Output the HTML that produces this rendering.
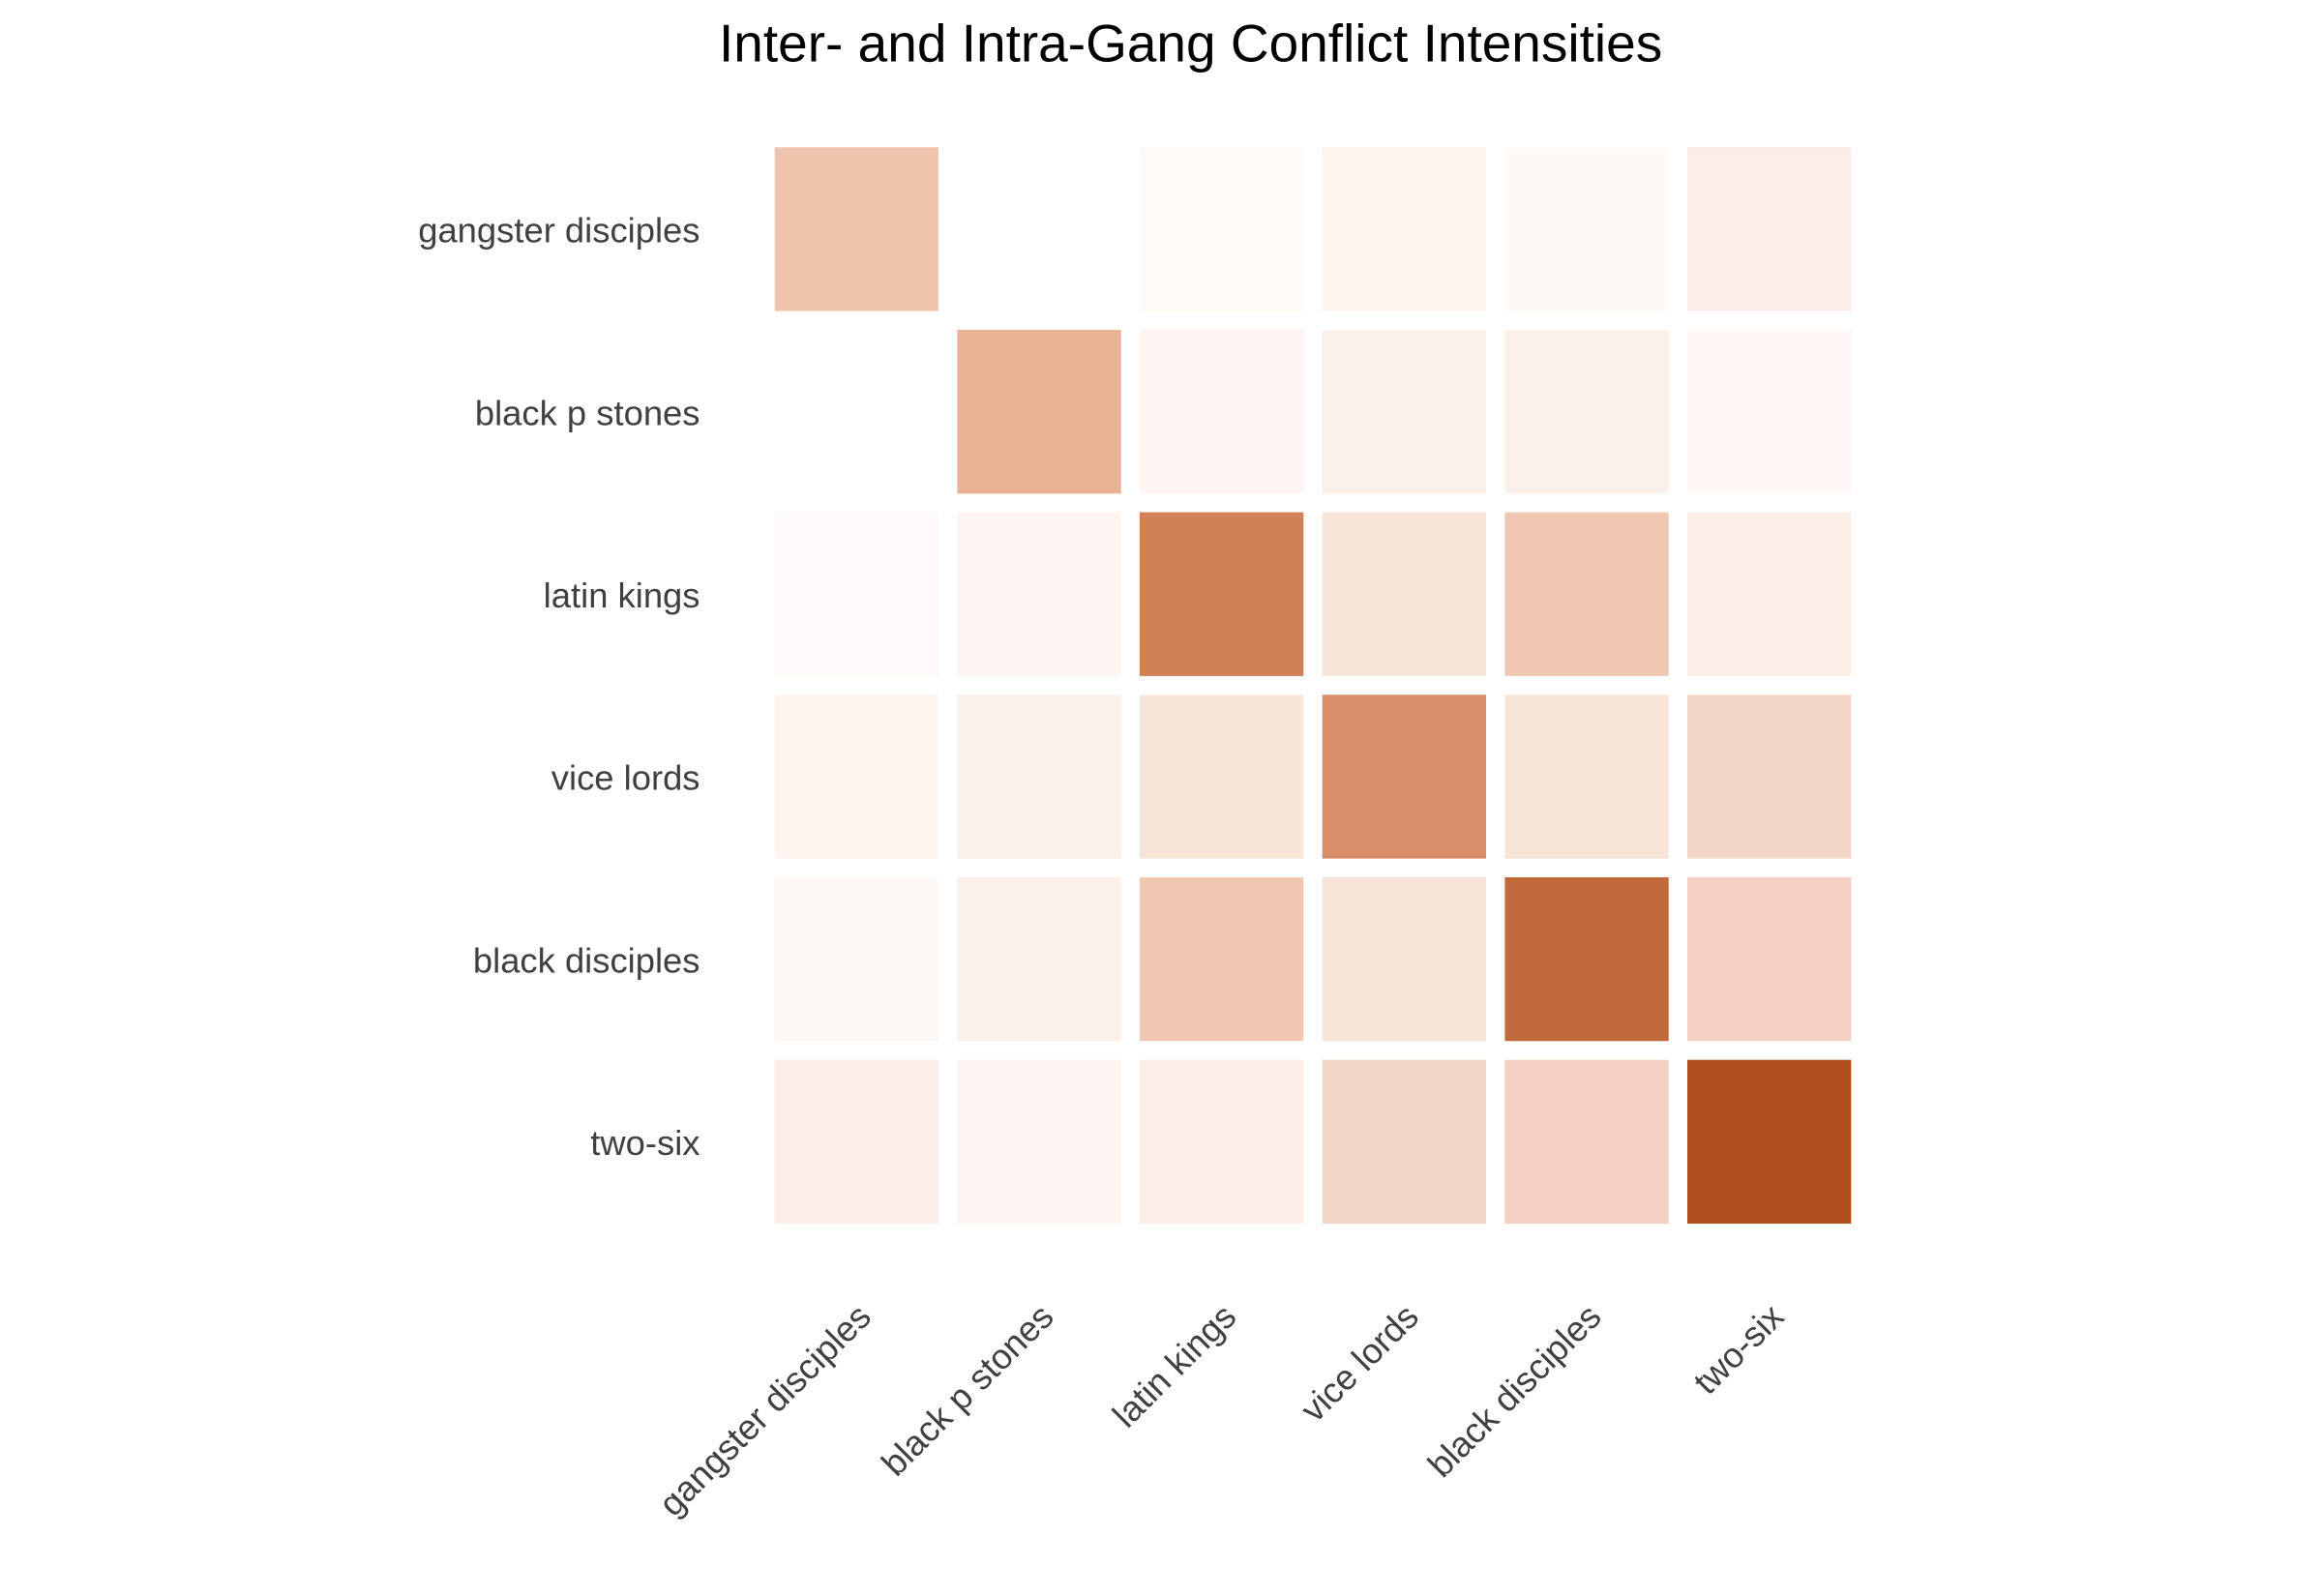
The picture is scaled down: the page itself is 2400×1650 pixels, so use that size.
<!DOCTYPE html>
<html>
<head>
<meta charset="utf-8">
<style>
  html, body { margin: 0; padding: 0; background: #ffffff; }
  svg { display: block; }
  text { font-family: "Liberation Sans", Arial, Helvetica, sans-serif; }
</style>
</head>
<body>
<svg width="2400" height="1650" viewBox="0 0 2400 1650" xmlns="http://www.w3.org/2000/svg">
  <rect x="0" y="0" width="2400" height="1650" fill="#ffffff"/>

  <!-- Title -->
  <text x="743" y="63.3" font-size="55" fill="#000000">Inter- and Intra-Gang Conflict Intensities</text>

  <!-- Tiles -->
  <g>
    <!-- row 0 -->
    <rect x="800.7" y="152.3" width="169.3" height="169.3" fill="#EEC4AC"/>
    <rect x="989.4" y="152.3" width="169.3" height="169.3" fill="#FFFFFF"/>
    <rect x="1178.0" y="152.3" width="169.3" height="169.3" fill="#FEFAF8"/>
    <rect x="1366.7" y="152.3" width="169.3" height="169.3" fill="#FEF3EF"/>
    <rect x="1555.4" y="152.3" width="169.3" height="169.3" fill="#FEF9F6"/>
    <rect x="1744.0" y="152.3" width="169.3" height="169.3" fill="#FBECE7"/>
    <!-- row 1 -->
    <rect x="800.7" y="341.0" width="169.3" height="169.3" fill="#FFFFFF"/>
    <rect x="989.4" y="341.0" width="169.3" height="169.3" fill="#E8B295"/>
    <rect x="1178.0" y="341.0" width="169.3" height="169.3" fill="#FEF5F2"/>
    <rect x="1366.7" y="341.0" width="169.3" height="169.3" fill="#FCF0EB"/>
    <rect x="1555.4" y="341.0" width="169.3" height="169.3" fill="#FCF0EB"/>
    <rect x="1744.0" y="341.0" width="169.3" height="169.3" fill="#FEF7F5"/>
    <!-- row 2 -->
    <rect x="800.7" y="529.6" width="169.3" height="169.3" fill="#FEFAF9"/>
    <rect x="989.4" y="529.6" width="169.3" height="169.3" fill="#FEF5F2"/>
    <rect x="1178.0" y="529.6" width="169.3" height="169.3" fill="#CF8158"/>
    <rect x="1366.7" y="529.6" width="169.3" height="169.3" fill="#F8E5DA"/>
    <rect x="1555.4" y="529.6" width="169.3" height="169.3" fill="#F0C7B1"/>
    <rect x="1744.0" y="529.6" width="169.3" height="169.3" fill="#FCEFE7"/>
    <!-- row 3 -->
    <rect x="800.7" y="718.3" width="169.3" height="169.3" fill="#FEF4F0"/>
    <rect x="989.4" y="718.3" width="169.3" height="169.3" fill="#FCF0EB"/>
    <rect x="1178.0" y="718.3" width="169.3" height="169.3" fill="#F8E5DA"/>
    <rect x="1366.7" y="718.3" width="169.3" height="169.3" fill="#D88D69"/>
    <rect x="1555.4" y="718.3" width="169.3" height="169.3" fill="#F7E4D7"/>
    <rect x="1744.0" y="718.3" width="169.3" height="169.3" fill="#F4D6C6"/>
    <!-- row 4 -->
    <rect x="800.7" y="907.0" width="169.3" height="169.3" fill="#FDF8F5"/>
    <rect x="989.4" y="907.0" width="169.3" height="169.3" fill="#FCF0EB"/>
    <rect x="1178.0" y="907.0" width="169.3" height="169.3" fill="#F0C7B1"/>
    <rect x="1366.7" y="907.0" width="169.3" height="169.3" fill="#F7E4D7"/>
    <rect x="1555.4" y="907.0" width="169.3" height="169.3" fill="#C0693A"/>
    <rect x="1744.0" y="907.0" width="169.3" height="169.3" fill="#F4D1C3"/>
    <!-- row 5 -->
    <rect x="800.7" y="1095.7" width="169.3" height="169.3" fill="#FBEDE8"/>
    <rect x="989.4" y="1095.7" width="169.3" height="169.3" fill="#FEF5F2"/>
    <rect x="1178.0" y="1095.7" width="169.3" height="169.3" fill="#FCEEE6"/>
    <rect x="1366.7" y="1095.7" width="169.3" height="169.3" fill="#F4D6C6"/>
    <rect x="1555.4" y="1095.7" width="169.3" height="169.3" fill="#F4D1C3"/>
    <rect x="1744.0" y="1095.7" width="169.3" height="169.3" fill="#AD4E1C"/>
  </g>

  <!-- Y axis labels -->
  <g font-size="36.4" fill="#404040" text-anchor="end">
    <text x="723.5" y="250.7">gangster disciples</text>
    <text x="723.5" y="439.4">black p stones</text>
    <text x="723.5" y="628.0">latin kings</text>
    <text x="723.5" y="816.7">vice lords</text>
    <text x="723.5" y="1005.4">black disciples</text>
    <text x="723.5" y="1194.0">two-six</text>
  </g>

  <!-- X axis labels (rotated 45°) -->
  <g font-size="36.4" fill="#404040" text-anchor="end">
    <text transform="translate(902.3,1363.5) rotate(-45)">gangster disciples</text>
    <text transform="translate(1091.0,1363.5) rotate(-45)">black p stones</text>
    <text transform="translate(1279.7,1363.5) rotate(-45)">latin kings</text>
    <text transform="translate(1468.3,1363.5) rotate(-45)">vice lords</text>
    <text transform="translate(1657.0,1363.5) rotate(-45)">black disciples</text>
    <text transform="translate(1845.7,1363.5) rotate(-45)">two-six</text>
  </g>
</svg>
</body>
</html>
